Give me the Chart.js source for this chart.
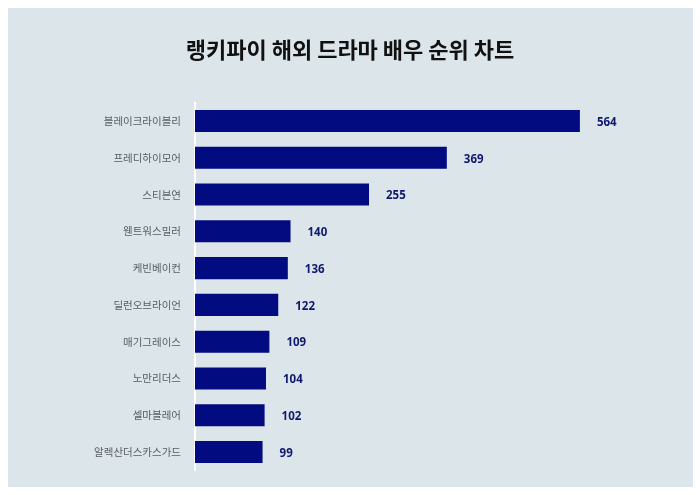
<!DOCTYPE html>
<html><head><meta charset="utf-8">
<script src="https://cdn.jsdelivr.net/npm/chart.js@4"></script>
<style>html,body{margin:0;padding:0;background:#fff}#w{width:700px;height:495px;position:relative}</style>
</head><body><div id="w"><canvas id="c" width="700" height="495"></canvas></div>
<script>
const titleText = '랭키파이 해외 드라마 배우 순위 차트';
const categories = ['블레이크라이블리','프레디하이모어','스티븐연','웬트워스밀러','케빈베이컨','딜런오브라이언','매기그레이스','노만리더스','셀마블레어','알렉산더스카스가드'];
const values = [564,369,255,140,136,122,109,104,102,99];

const bgPlugin = {
  id:'bg',
  beforeDraw(chart){
    const ctx = chart.ctx;
    ctx.save();
    ctx.fillStyle = '#ffffff';
    ctx.fillRect(0,0,chart.width,chart.height);
    ctx.fillStyle = '#dce6ea';
    ctx.fillRect(8,8,685,479);
    ctx.restore();
  }
};
const labelPlugin = {
  id:'vals',
  afterDatasetsDraw(chart){
    const ctx = chart.ctx;
    const meta = chart.getDatasetMeta(0);
    ctx.save();
    ctx.font = 'bold 11.5px "Noto Sans", "Noto Sans CJK KR", sans-serif';
    ctx.fillStyle = '#10186e';
    ctx.textAlign = 'left';
    ctx.textBaseline = 'middle';
    meta.data.forEach((bar,i)=>{
      ctx.fillText(String(values[i]), bar.x + 17, bar.y + 1.5);
    });
    ctx.restore();
  }
};

new Chart(document.getElementById('c'), {
  type:'bar',
  data:{labels:categories, datasets:[{data:values, backgroundColor:'#020b80', borderWidth:0, categoryPercentage:0.8, barPercentage:0.75}]},
  plugins:[bgPlugin,labelPlugin],
  options:{
    indexAxis:'y',
    responsive:false,
    animation:false,
    events:[],
    layout:{padding:{left:0,right:0,top:0,bottom:24.6}},
    plugins:{
      legend:{display:false},
      tooltip:{enabled:false},
      title:{display:true,text:titleText,color:'#111111',
        font:{family:'"Noto Sans CJK KR", sans-serif',size:22,weight:'bold',lineHeight:1.2},
        padding:{top:36.3,bottom:39.9}}
    },
    scales:{
      x:{display:false,min:0,max:740},
      y:{
        afterFit(s){ s.width = 195; },
        grid:{display:false,drawTicks:false},
        border:{display:true,color:'#ffffff',width:2},
        ticks:{padding:14,color:'#585c60',font:{family:'"Noto Sans CJK KR", sans-serif',size:10.5}}
      }
    }
  }
});
</script></body></html>
